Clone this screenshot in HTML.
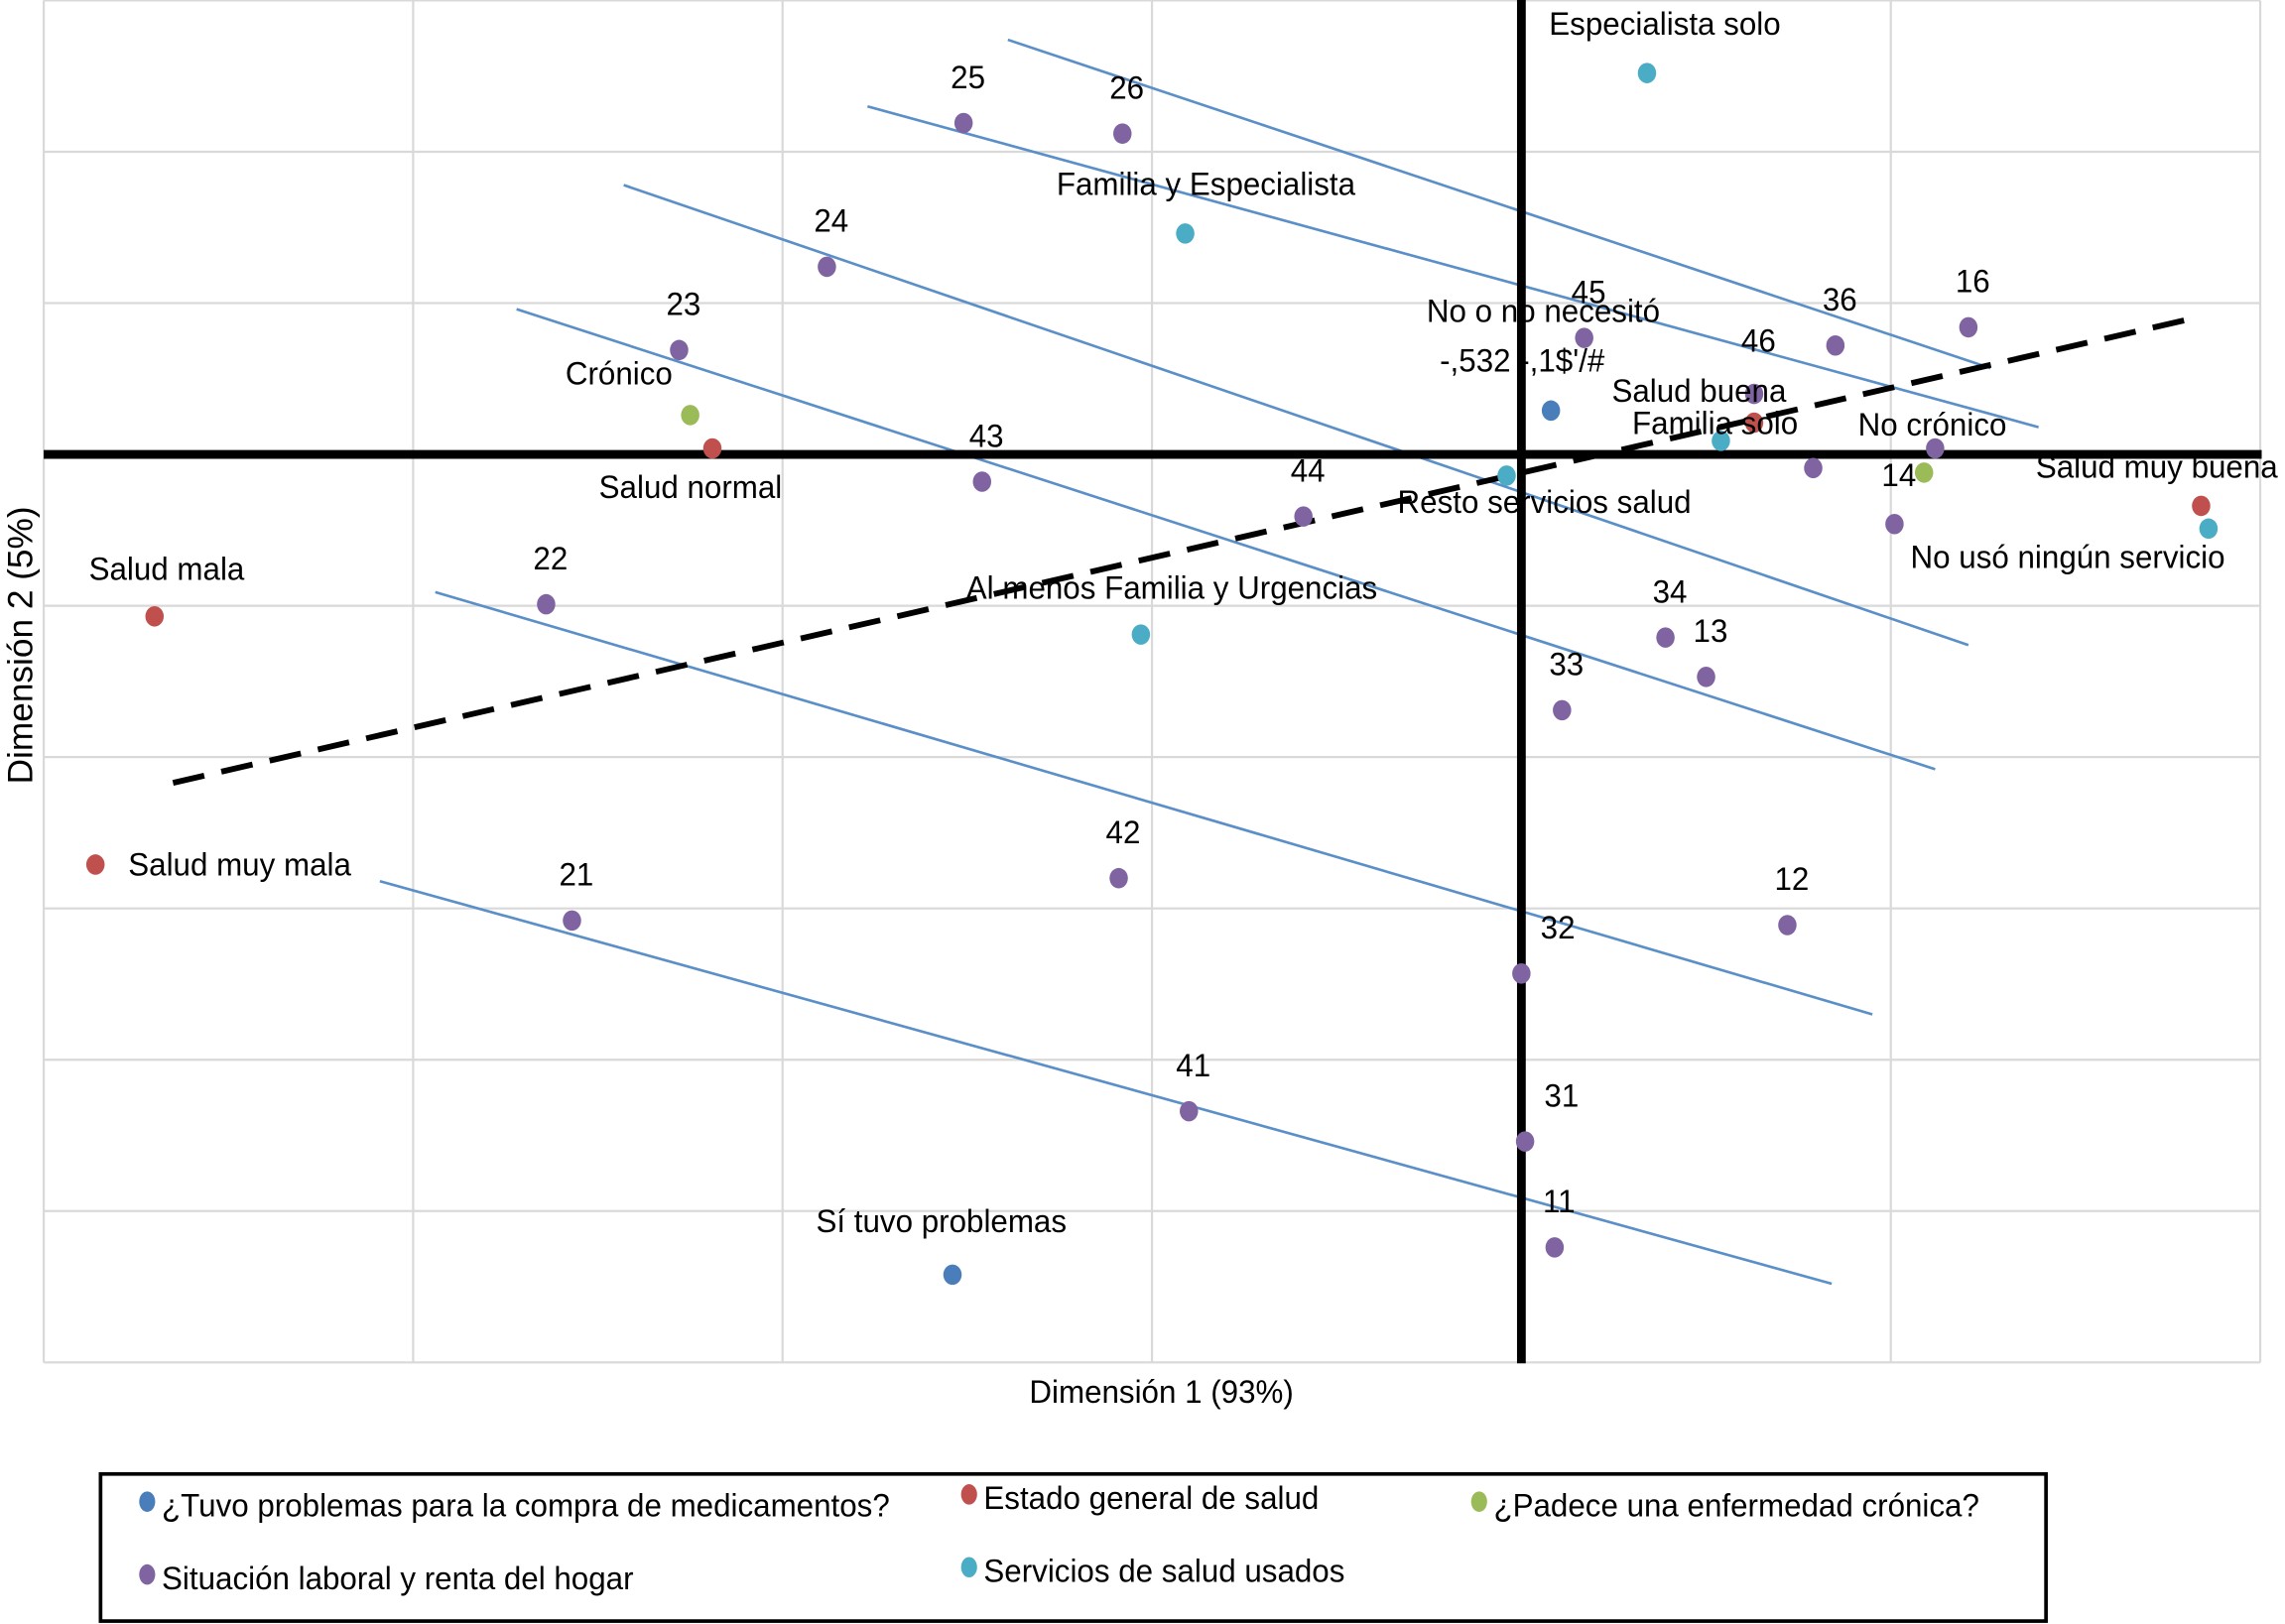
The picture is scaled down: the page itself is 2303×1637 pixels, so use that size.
<!DOCTYPE html>
<html><head><meta charset="utf-8"><style>
html,body{margin:0;padding:0;background:#fff;}
svg{display:block;}
text{font-family:"Liberation Sans",sans-serif;fill:#000;}
</style></head><body>
<svg id="chart" width="2303" height="1637" viewBox="0 0 1568 1115" preserveAspectRatio="none" xmlns="http://www.w3.org/2000/svg">
<g id="grid"></g>
<g id="lines"></g>
<g id="axes"></g>
<g id="points"></g>
<g id="labels"></g>
<g id="legend"></g>
</svg>
<script>
// data (dimension units)
const seriesNames = ["¿Tuvo problemas para la compra de medicamentos?","Estado general de salud","¿Padece una enfermedad crónica?","Situación laboral y renta del hogar","Servicios de salud usados"];
const seriesColors = ["#4a7ebb","#c0504d","#9bbb59","#8064a2","#4bacc6"];
const blueX = [0.08,-1.54];
const blueY = [0.29,-5.42];
const blueLabels = ["No o no necesitó","Sí tuvo problemas"];
const redX = [-2.19,-3.70,-3.86,0.63,1.84];
const redY = [0.04,-1.07,-2.71,0.21,-0.34];
const redLabels = ["Salud normal","Salud mala","Salud muy mala","Salud buena","Salud muy buena"];
const greenX = [-2.25,1.09];
const greenY = [0.26,-0.12];
const greenLabels = ["Crónico","No crónico"];
const purpleX = [-1.51,-1.08,-1.88,-2.28,-1.46,-0.59,-2.64,0.17,0.85,1.21,0.63,0.79,1.12,1.01,0.39,0.50,0.11,0.72,-1.09,0.00,-2.57,-0.90,0.01,0.09];
const purpleY = [2.19,2.12,1.24,0.69,-0.18,-0.41,-0.99,0.77,0.72,0.84,0.40,-0.09,0.04,-0.46,-1.21,-1.47,-1.69,-3.11,-2.80,-3.43,-3.08,-4.34,-4.54,-5.24];
const purpleLabels = ["25","26","24","23","43","44","22","45","36","16","46","","","14","34","13","33","12","42","32","21","41","31","11"];
const cyanX = [0.34,-0.91,0.54,-0.04,-1.03,1.86];
const cyanY = [2.52,1.46,0.09,-0.14,-1.19,-0.49];
const cyanLabels = ["Especialista solo","Familia y Especialista","Familia solo","Resto servicios salud","Al menos Familia y Urgencias","No usó ningún servicio"];
const trendX1 = [-1.39,-1.77,-2.43,-2.72,-2.94,-3.09];
const trendY1 = [2.74,2.30,1.78,0.96,-0.91,-2.82];
const trendX2 = [1.27,1.40,1.21,1.12,0.95,0.84];
const trendY2 = [0.57,0.18,-1.26,-2.08,-3.70,-5.48];
const dashX = [-3.65,1.82];
const dashY = [-2.17,0.90];
const xTicks = [-4,-3,-2,-1,0,1,2];
const yTicks = [3,2,1,0,-1,-2,-3,-4,-5,-6];

const X0=1044, XS=253.5, Y0=312, YS=103.9;
const sx=v=>X0+v*XS, sy=v=>Y0-v*YS;
const NS="http://www.w3.org/2000/svg";
function mk(tag,parent,attrs){const e=document.createElementNS(NS,tag);for(const k in attrs)e.setAttribute(k,attrs[k]);parent.appendChild(e);return e;}
function txt(parent,s,x,y,size,anchor){const t=mk('text',parent,{x:0,y:0,'font-size':size||22,'text-anchor':anchor||'start',transform:`translate(${x},${y}) scale(0.97,1)`});t.textContent=s;return t;}

const grid=document.getElementById('grid');
xTicks.forEach(v=>{const l=mk('line',grid,{x1:sx(v),x2:sx(v),y1:sy(3),y2:sy(-6),stroke:'#d9d9d9','stroke-width':1.5});

});
yTicks.forEach(v=>{const l=mk('line',grid,{x1:sx(-4),x2:sx(2),y1:sy(v),y2:sy(v),stroke:'#d9d9d9','stroke-width':1.5});

});

const lines=document.getElementById('lines');
trendX1.forEach((v,i)=>{const l=mk('line',lines,{x1:sx(v),y1:sy(trendY1[i]),x2:sx(trendX2[i]),y2:sy(trendY2[i]),stroke:'#5b8fc7','stroke-width':1.8});

});
const dl=mk('line',lines,{x1:sx(dashX[0]),y1:sy(dashY[0]),x2:sx(dashX[1]),y2:sy(dashY[1]),stroke:'#000','stroke-width':4,'stroke-dasharray':'22,12'});



const axes=document.getElementById('axes');
const ax=mk('line',axes,{x1:30,x2:1552,y1:sy(0),y2:sy(0),stroke:'#000','stroke-width':6});


const ay=mk('line',axes,{x1:sx(0),x2:sx(0),y1:0,y2:936,stroke:'#000','stroke-width':6});


const xt=txt(axes,'Dimensión 1 (93%)',797,963,22,'middle');


const yt=mk('text',axes,{x:0,y:0,'font-size':24,'text-anchor':'middle',transform:'translate(22,443) rotate(-90)'});
yt.textContent='Dimensión 2 (5%)';



const pts=document.getElementById('points');
const allSeries=[[blueX,blueY],[redX,redY],[greenX,greenY],[purpleX,purpleY],[cyanX,cyanY]];
allSeries.forEach((s,si)=>{s[0].forEach((v,i)=>{const c=mk('ellipse',pts,{cx:sx(v),cy:sy(s[1][i]),rx:6.3,ry:7,fill:seriesColors[si]});

});});

const lab=document.getElementById('labels');
function L(s,x,y,a){const t=txt(lab,s,x,y,22,a);

}
purpleX.forEach((v,i)=>{if(!purpleLabels[i])return;let dx=3,dy=-24;
if(purpleLabels[i]==='32'||purpleLabels[i]==='31')dx=25;
if(purpleLabels[i]==='46')dy=-29;
if(purpleLabels[i]==='14')dy=-26;
L(purpleLabels[i],sx(v)+dx,sy(purpleY[i])+dy,'middle');});
const fixed=[["Especialista solo",1063,24],["Familia y Especialista",725,134],["No o no necesitó",979,221],["-,532 -,1$'/#",988,255],["Salud buena",1106,276],["Familia solo",1120,298],["No crónico",1275,299],["Salud muy buena",1397,328],["No usó ningún servicio",1311,390],["Resto servicios salud",959,352],["Crónico",388,264],["Salud normal",411,342],["Salud mala",61,398],["Al menos Familia y Urgencias",663,411],["Salud muy mala",88,601],["Sí tuvo problemas",560,846]];
fixed.forEach(f=>L(f[0],f[1],f[2],'start'));

const leg=document.getElementById('legend');
const box=mk('rect',leg,{x:69,y:1012,width:1335,height:101,fill:'none',stroke:'#000','stroke-width':2.5});


const legPos=[[101,1031],[665,1026],[1015,1031],[101,1081],[665,1076]];
seriesNames.forEach((n,i)=>{const g=mk('g',leg,{});


mk('ellipse',g,{cx:legPos[i][0],cy:legPos[i][1],rx:5.5,ry:7,fill:seriesColors[i]});
txt(g,n,legPos[i][0]+10,legPos[i][1]+10,22,'start');});
</script>
</body></html>
